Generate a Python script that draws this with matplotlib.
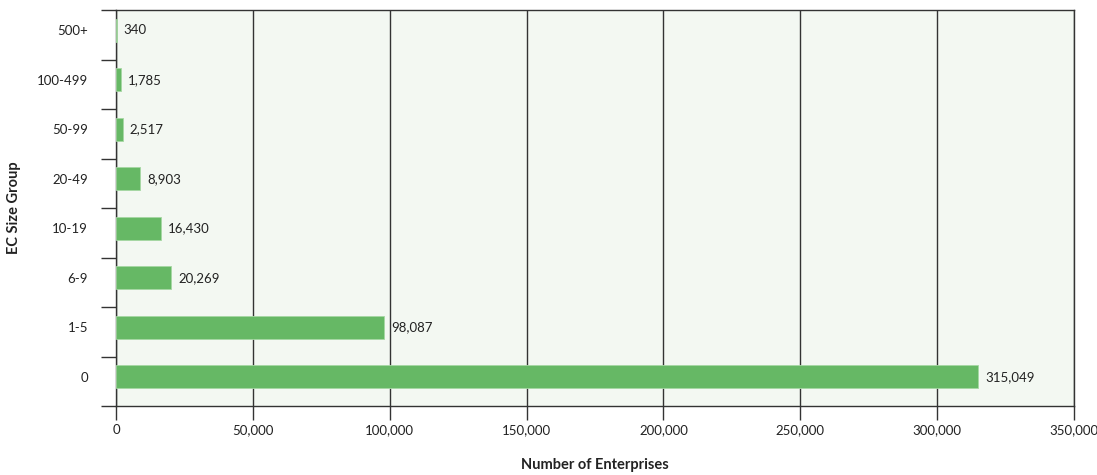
import matplotlib.pyplot as plt
import numpy as np

plt.rcParams['font.family'] = ['Lato', 'DejaVu Sans']

# EC size groups and number of enterprises
groups = ["0", "1-5", "6-9", "10-19", "20-49", "50-99", "100-499", "500+"]
enterprises = [315049, 98087, 20269, 16430, 8903, 2517, 1785, 340]
xticks = [0, 50000, 100000, 150000, 200000, 250000, 300000, 350000]

fig = plt.figure(figsize=(10.97, 4.75), dpi=100)
ax = fig.add_axes([116 / 1097, 1 - 406 / 475, (1074 - 116) / 1097, (406 - 10) / 475])
ax.set_facecolor("#f3f8f2")

y = np.arange(len(groups)) + 0.09  # bars sit a little above the band centre
ax.barh(y, enterprises, height=0.46, color="#66b865", edgecolor="#a6d8a3",
        linewidth=0.6, zorder=3)

for yi, v in zip(y, enterprises):
    ax.text(v + 2500, yi, f"{v:,}", va="center", ha="left", fontsize=9.5,
            color="#222222", zorder=4)

ax.set_xlim(0, 350000)
ax.set_ylim(-0.5, len(groups) - 0.5)

ax.set_xticks(xticks)
ax.set_xticklabels([f"{t:,}" for t in xticks], fontsize=9.5, color="#222222")
ax.tick_params(axis="x", length=10, width=1, color="#333333", pad=3)

# group labels at centres, tick marks at boundaries
ax.set_yticks(y)
ax.set_yticklabels(groups, fontsize=9.5, color="#222222")
ax.tick_params(axis="y", which="major", length=0, pad=20)
ax.set_yticks(np.arange(-0.5, len(groups)), minor=True)
ax.tick_params(axis="y", which="minor", length=11, width=1, color="#333333")

ax.grid(axis="x", color="#333333", linewidth=1, zorder=1)
ax.set_axisbelow(True)

for side in ["left", "bottom", "right", "top"]:
    ax.spines[side].set_color("#333333")
    ax.spines[side].set_linewidth(1)

fig.text(595 / 1097, 1 - 465 / 475, "Number of Enterprises", fontsize=10.5,
         fontweight="bold", ha="center", va="center", color="#222222")
fig.text(14 / 1097, 1 - 208 / 475, "EC Size Group", fontsize=10.5,
         fontweight="bold", ha="center", va="center", rotation=90, color="#222222")

fig.savefig("out.png", dpi=100)
